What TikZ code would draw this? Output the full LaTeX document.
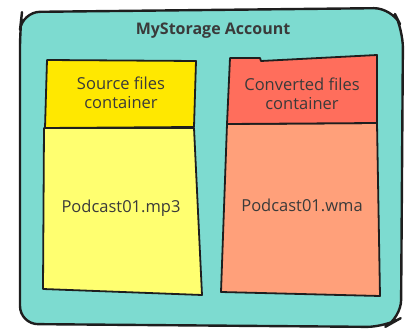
\documentclass[tikz,border=0pt]{standalone}
\usepackage{fontspec}
\setmainfont{Open Sans}
\definecolor{teal1}{HTML}{7DDBD0}
\definecolor{ink}{HTML}{1E1E1E}
\definecolor{txt}{HTML}{3A3A3A}
\definecolor{yhead}{HTML}{FFE800}
\definecolor{ybody}{HTML}{FFFF70}
\definecolor{rhead}{HTML}{FF6E5C}
\definecolor{rbody}{HTML}{FFA07A}
\tikzset{
  sketch/.style={draw=ink, line width=1.8pt, line join=round, line cap=round},
  lbl/.style={text=txt, font=\fontsize{16.5}{19}\selectfont, align=center},
}
\begin{document}
\begin{tikzpicture}[x=1pt,y=-1pt]
\useasboundingbox (0,0) rectangle (407,331);
% outer account
\draw[sketch, line width=2.4pt, fill=teal1, rounded corners=18pt]
  (22,12) -- (392,8) -- (403,30) -- (401,318) -- (385,327) -- (20,324) -- (20,30) -- cycle;
\node[font=\bfseries\fontsize{16}{18}\selectfont, text=txt] (title) at (213,31) {MyStorage Account};
% left container
\draw[sketch, fill=ybody] (44,128) -- (194,128) -- (202,295) -- (43,289) -- cycle;
\draw[sketch, fill=yhead] (47,60) -- (196,61) -- (194,127) -- (45,128) -- cycle;
\node[lbl] (srchead) at (121,93) {Source files\\container};
\node[lbl] (srcfile) at (121,208) {Podcast01.mp3};
% right container
\draw[sketch, fill=rbody] (227,124) -- (377,123) -- (380,296) -- (221,292) -- cycle;
\draw[sketch, fill=rhead] (230,58) -- (260,58) -- (261,61) -- (377,55) -- (377,123) -- (227,124) -- cycle;
\node[lbl] (dsthead) at (302,94) {Converted files\\container};
\node[lbl] (dstfile) at (302,205) {Podcast01.wma};
\end{tikzpicture}
\end{document}
